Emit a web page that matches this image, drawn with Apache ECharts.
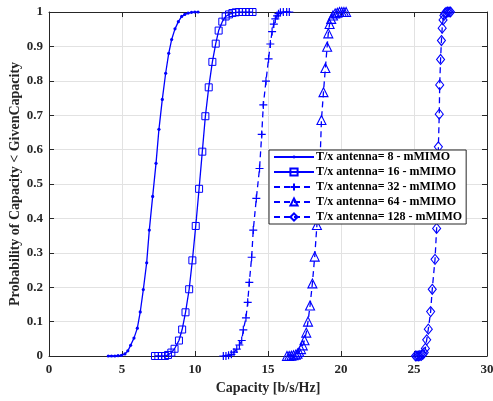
<!DOCTYPE html>
<html>
<head>
<meta charset="utf-8">
<script src="https://cdn.jsdelivr.net/npm/echarts@6/dist/echarts.min.js"></script>
<style>html,body{margin:0;padding:0;background:#fff;}#c{width:493px;height:401px;}</style>
</head>
<body>
<div id="c"></div>
<script>
// ---- data ----
const xTicks = [0, 5, 10, 15, 20, 25, 30];
const yTicks = [0, 0.1, 0.2, 0.3, 0.4, 0.5, 0.6, 0.7, 0.8, 0.9, 1];
const seriesNames = [
  'T/x antenna= 8 - mMIMO',
  'T/x antenna= 16 - mMIMO',
  'T/x antenna= 32 - mMIMO',
  'T/x antenna= 64 - mMIMO',
  'T/x antenna= 128 - mMIMO'
];
const ant8X = [4.06,4.28,4.51,4.73,4.96,5.2,5.4,5.59,5.82,6.05,6.25,6.46,6.69,6.87,7.10,7.33,7.53,7.76,7.99,8.2,8.40,8.63,8.86,9.09,9.3,9.53,9.76,9.99,10.21];
const ant8Y = [0,0,0,0.001,0.002,0.006,0.015,0.031,0.052,0.081,0.128,0.193,0.271,0.366,0.464,0.560,0.659,0.746,0.822,0.880,0.920,0.951,0.972,0.987,0.993,0.997,0.999,1,1];
const ant16X = [7.26,7.49,7.72,7.95,8.15,8.38,8.6,8.9,9.12,9.35,9.6,9.82,10.05,10.28,10.5,10.71,10.94,11.19,11.42,11.62,11.87,12.1,12.33,12.56,12.79,13.02,13.25,13.48,13.71,13.94];
const ant16Y = [0,0,0,0,0.003,0.01,0.021,0.045,0.077,0.127,0.194,0.278,0.378,0.486,0.594,0.697,0.781,0.855,0.908,0.946,0.972,0.987,0.993,0.997,0.999,1,1,1,1,1];
const ant32X = [11.94,12.12,12.3,12.49,12.67,12.86,13.04,13.2,13.31,13.49,13.61,13.72,13.88,13.99,14.2,14.42,14.57,14.68,14.86,15.04,15.16,15.28,15.4,15.5,15.62,15.72,15.85,16.05,16.28,16.46];
const ant32Y = [0,0,0.002,0.005,0.011,0.02,0.032,0.045,0.076,0.111,0.156,0.214,0.287,0.366,0.458,0.545,0.644,0.73,0.799,0.864,0.907,0.943,0.965,0.98,0.989,0.995,0.999,1,1,1];
const ant64X = [16.3,16.45,16.6,16.75,16.9,17.02,17.14,17.26,17.38,17.5,17.62,17.74,17.88,18.04,18.2,18.35,18.48,18.58,18.66,18.8,18.93,19.05,19.13,19.22,19.33,19.45,19.6,19.75,19.9,20.05,20.2,20.35];
const ant64Y = [0,0,0.001,0.002,0.004,0.007,0.012,0.02,0.031,0.046,0.068,0.1,0.147,0.211,0.289,0.381,0.48,0.585,0.686,0.767,0.837,0.899,0.938,0.965,0.98,0.99,0.996,0.998,1,1,1,1];
const ant128X = [25.1,25.2,25.3,25.4,25.5,25.6,25.7,25.78,25.87,25.98,26.14,26.25,26.44,26.55,26.62,26.67,26.73,26.76,26.82,26.88,26.93,26.99,27.05,27.12,27.2,27.3,27.4,27.5];
const ant128Y = [0,0,0,0.001,0.002,0.005,0.01,0.022,0.047,0.078,0.129,0.194,0.281,0.371,0.48,0.608,0.703,0.788,0.862,0.917,0.953,0.977,0.99,0.996,0.999,1,1,1];

// ---- chart ----
const BLUE = '#0000ff';
const AX = '#262626';
const FONT = '"Liberation Serif", "Times New Roman", serif';
const zip = (xs, ys) => xs.map((x, i) => [x, ys[i]]);
const allX = [ant8X, ant16X, ant32X, ant64X, ant128X];
const allY = [ant8Y, ant16Y, ant32Y, ant64Y, ant128Y];
const symbols = [
  {symbol: 'path://M0,0M10,10M3,5A2,2,0,1,1,7,5A2,2,0,1,1,3,5Z', symbolSize: 8, fill: BLUE, bw: 0},
  {symbol: 'rect', symbolSize: 7, fill: 'rgba(0,0,0,0)', bw: 1},
  {symbol: 'path://M5,0L5,10M0,5L10,5', symbolSize: 8, fill: 'rgba(0,0,0,0)', bw: 1.2},
  {symbol: 'triangle', symbolSize: [9, 9], fill: 'rgba(0,0,0,0)', bw: 1.1},
  {symbol: 'diamond', symbolSize: [8, 10], fill: 'rgba(0,0,0,0)', bw: 1.1}
];
const dashed = [false, false, true, true, true];

const series = seriesNames.map((name, i) => ({
  name: name,
  type: 'line',
  data: zip(allX[i], allY[i]),
  symbol: symbols[i].symbol,
  symbolSize: symbols[i].symbolSize,
  showSymbol: true,
  showAllSymbol: true,
  lineStyle: {color: BLUE, width: 1.3, type: dashed[i] ? [6, 4] : 'solid'},
  itemStyle: {color: symbols[i].fill, borderColor: BLUE, borderWidth: symbols[i].bw},
  emphasis: {disabled: true},
  z: 2
}));

const tickFmtY = v => (v === 0 ? '0' : v === 1 ? '1' : v.toFixed(1));
const labelStyle = {color: AX, fontFamily: FONT, fontWeight: 'bold', fontSize: 13};

const chart = echarts.init(document.getElementById('c'), null, {renderer: 'canvas'});
chart.setOption({
  animation: false,
  backgroundColor: '#fff',
  grid: {left: 49, right: 6, top: 12, bottom: 45, containLabel: false, outerBoundsMode: 'none', show: false},
  legend: {
    orient: 'vertical',
    left: 269, top: 150,
    padding: [1, 4, 1, 4],
    itemWidth: 40, itemHeight: 9, itemGap: 3,
    backgroundColor: '#fff',
    borderColor: AX, borderWidth: 1,
    borderRadius: 0,
    textStyle: {color: '#000', fontFamily: FONT, fontWeight: 'bold', fontSize: 12, padding: [0, 0, 0, -3]},
    data: seriesNames,
    z: 10
  },
  xAxis: [{
    type: 'value', min: 0, max: 30, interval: 5,
    name: 'Capacity [b/s/Hz]', nameLocation: 'middle', nameGap: 25, nameMoveOverlap: false,
    nameTextStyle: {color: AX, fontFamily: FONT, fontWeight: 'bold', fontSize: 14},
    axisLine: {show: true, lineStyle: {color: AX, width: 1}},
    axisTick: {show: true, inside: true, length: 5, lineStyle: {color: AX}},
    axisLabel: Object.assign({margin: 7, formatter: v => xTicks.includes(v) ? String(v) : ''}, labelStyle),
    splitLine: {show: true, lineStyle: {color: '#e2e2e2', width: 1}}
  }, {
    type: 'value', min: 0, max: 30, interval: 5, position: 'top',
    axisLine: {show: true, onZero: false, lineStyle: {color: AX, width: 1}},
    axisTick: {show: true, inside: true, length: 5, lineStyle: {color: AX}},
    axisLabel: {show: false}, splitLine: {show: false}
  }],
  yAxis: [{
    type: 'value', min: 0, max: 1, interval: 0.1,
    name: 'Probability of Capacity < GivenCapacity', nameLocation: 'middle', nameGap: 27, nameMoveOverlap: false,
    nameTextStyle: {color: AX, fontFamily: FONT, fontWeight: 'bold', fontSize: 14},
    axisLine: {show: true, lineStyle: {color: AX, width: 1}},
    axisTick: {show: true, inside: true, length: 5, lineStyle: {color: AX}},
    axisLabel: Object.assign({margin: 6, formatter: tickFmtY}, labelStyle),
    splitLine: {show: true, lineStyle: {color: '#e2e2e2', width: 1}}
  }, {
    type: 'value', min: 0, max: 1, interval: 0.1, position: 'right',
    axisLine: {show: true, onZero: false, lineStyle: {color: AX, width: 1}},
    axisTick: {show: true, inside: true, length: 5, lineStyle: {color: AX}},
    axisLabel: {show: false}, splitLine: {show: false}
  }],
  series: series
});
</script>
</body>
</html>
